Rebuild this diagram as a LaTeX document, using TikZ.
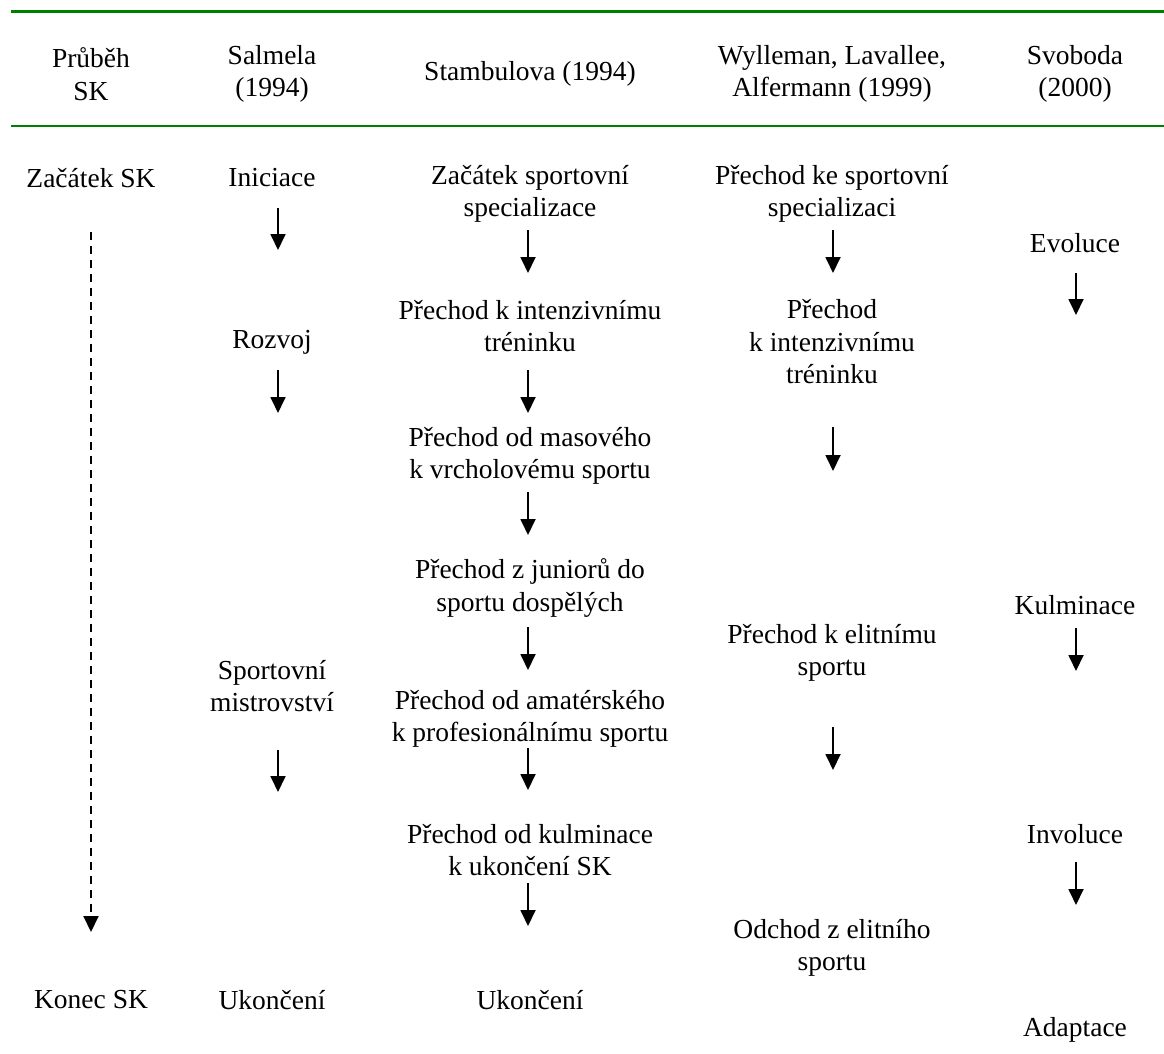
\documentclass[tikz,border=0pt]{standalone}
\usepackage{fontspec}
\setmainfont{Liberation Serif}
\usetikzlibrary{arrows.meta}
\definecolor{rulegreen}{RGB}{0,128,0}
\tikzset{
  lbl/.style={align=center, inner sep=0pt, font=\fontsize{27.5}{32.5}\selectfont},
  arr/.style={line width=1.8pt, -{Triangle[width=15pt,length=16pt]}},
  dasharr/.style={line width=1.9pt, dash pattern=on 8pt off 6pt, -{Triangle[width=15pt,length=16pt]}},
  rule/.style={draw=rulegreen}
}
\begin{document}
\begin{tikzpicture}[x=1pt,y=-1pt]
\useasboundingbox (0,0) rectangle (1164,1054);
% rules
\coordinate (r1a) at (11,12);  \coordinate (r1b) at (1164,12);
\coordinate (r2a) at (11,126); \coordinate (r2b) at (1164,126);
\draw[rule, line width=3pt] (r1a) -- (r1b);
\draw[rule, line width=2.5pt] (r2a) -- (r2b);
% header
\node[lbl] (h1) at (91,74) {Průběh\\SK};
\node[lbl] (h2) at (272,74) {Salmela\\(1994)};
\node[lbl] (h3) at (530,74) {Stambulova (1994)};
\node[lbl] (h4) at (832,74) {Wylleman, Lavallee,\\Alfermann (1999)};
\node[lbl] (h5) at (1075,74) {Svoboda\\(2000)};
% column 1
\node[lbl] (c1a) at (91,178) {Začátek SK};
\node[lbl] (c1b) at (91,1000) {Konec SK};
% column 2
\node[lbl] (c2a) at (272,178) {Iniciace};
\node[lbl] (c2b) at (272,342) {Rozvoj};
\node[lbl] (c2c) at (272,686) {Sportovní\\mistrovství};
\node[lbl] (c2d) at (272,1000) {Ukončení};
% column 3
\node[lbl] (c3a) at (530,194) {Začátek sportovní\\specializace};
\node[lbl] (c3b) at (530,326) {Přechod k intenzivnímu\\tréninku};
\node[lbl] (c3c) at (530,456) {Přechod od masového\\k vrcholovému sportu};
\node[lbl] (c3d) at (530,588) {Přechod z juniorů do\\sportu dospělých};
\node[lbl] (c3e) at (530,719) {Přechod od amatérského\\k profesionálnímu sportu};
\node[lbl] (c3f) at (530,850) {Přechod od kulminace\\k ukončení SK};
\node[lbl] (c3g) at (530,1000) {Ukončení};
% column 4
\node[lbl] (c4a) at (832,194) {Přechod ke sportovní\\specializaci};
\node[lbl] (c4b) at (832,342) {Přechod\\k intenzivnímu\\tréninku};
\node[lbl] (c4c) at (832,653) {Přechod k elitnímu\\sportu};
\node[lbl] (c4d) at (832,948) {Odchod z elitního\\sportu};
% column 5
\node[lbl] (c5a) at (1075,243) {Evoluce};
\node[lbl] (c5b) at (1075,605) {Kulminace};
\node[lbl] (c5c) at (1075,834) {Involuce};
\node[lbl] (c5d) at (1075,1030) {Adaptace};
% arrow end points
\coordinate (d1s) at (91,232);  \coordinate (d1e) at (91,932);
\coordinate (a21s) at (278,208); \coordinate (a21e) at (278,250);
\coordinate (a22s) at (278,370); \coordinate (a22e) at (278,413);
\coordinate (a23s) at (278,750); \coordinate (a23e) at (278,792);
\coordinate (a31s) at (528,230); \coordinate (a31e) at (528,273);
\coordinate (a32s) at (528,370); \coordinate (a32e) at (528,413);
\coordinate (a33s) at (528,492); \coordinate (a33e) at (528,535);
\coordinate (a34s) at (528,627); \coordinate (a34e) at (528,670);
\coordinate (a35s) at (528,748); \coordinate (a35e) at (528,790);
\coordinate (a36s) at (528,883); \coordinate (a36e) at (528,926);
\coordinate (a41s) at (833,230); \coordinate (a41e) at (833,273);
\coordinate (a42s) at (833,427); \coordinate (a42e) at (833,471);
\coordinate (a43s) at (833,727); \coordinate (a43e) at (833,770);
\coordinate (a51s) at (1076,273); \coordinate (a51e) at (1076,315);
\coordinate (a52s) at (1076,628); \coordinate (a52e) at (1076,671);
\coordinate (a53s) at (1076,862); \coordinate (a53e) at (1076,905);
% arrows
\draw[dasharr] (d1s) -- (d1e);
\foreach \a in {21,22,23,31,32,33,34,35,36,41,42,43,51,52,53}
  \draw[arr] (a\a s) -- (a\a e);
\end{tikzpicture}
\end{document}
